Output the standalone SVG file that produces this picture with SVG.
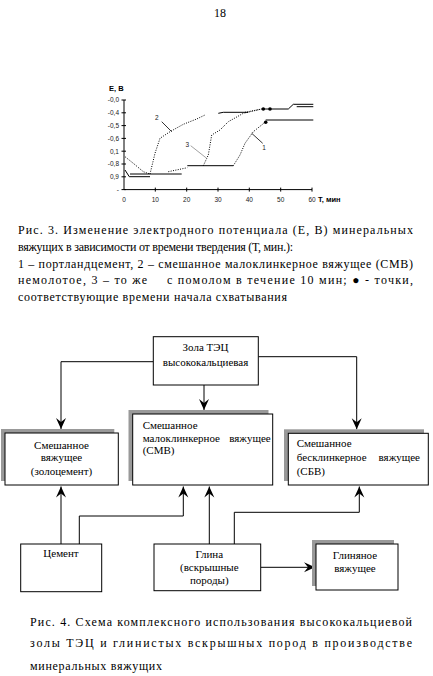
<svg xmlns="http://www.w3.org/2000/svg" width="433" height="676" viewBox="0 0 433 676">
<style>
.cap{font-family:"Liberation Serif","Times New Roman",serif;font-size:12px;fill:#000}
.bt{font-family:"Liberation Serif","Times New Roman",serif;font-size:11px;fill:#000}
.ax{font-family:"Liberation Sans",Arial,sans-serif;font-size:6.5px;fill:#222}
.axb{font-family:"Liberation Sans",Arial,sans-serif;font-size:7.5px;font-weight:bold;fill:#000}
.box{fill:#fff;stroke:#000;stroke-width:1}
.sh{fill:#999}
.con{fill:none;stroke:#000;stroke-width:1}
.sol{fill:none;stroke:#000;stroke-width:1}
.dot{fill:none;stroke:#000;stroke-width:1;stroke-dasharray:1 1.4}
</style>
<defs>
<marker id="ah" viewBox="-12 -6 13 12" refX="0" refY="0" markerWidth="13" markerHeight="12" markerUnits="userSpaceOnUse" orient="auto">
<path d="M0,0 L-11,-5 L-7,0 L-11,5 Z" fill="#000"/>
</marker>
</defs>
<rect width="433" height="676" fill="#fff"/>
<text class="cap" x="220" y="17" text-anchor="middle">18</text>

<g id="chart">
<line class="sol" x1="124" y1="100" x2="124" y2="189.6"/>
<line class="sol" x1="124" y1="189.6" x2="312" y2="189.6"/>
<path class="sol" d="M121.5,100H126M121.5,112.8H126M121.5,125.6H126M121.5,138.4H126M121.5,151.2H126M121.5,164H126M121.5,176.8H126M121.5,189.6H126"/>
<path class="sol" d="M155.3,187.6V191.6M186.7,187.6V191.6M218,187.6V191.6M249.3,187.6V191.6M280.7,187.6V191.6M312,187.6V191.6"/>
<text class="axb" x="109" y="90.5">E, B</text>
<g class="ax" text-anchor="end">
<text x="119" y="102.3">-0,0</text>
<text x="119" y="115.1">-0,4</text>
<text x="119" y="127.9">-0,5</text>
<text x="119" y="140.7">-0,6</text>
<text x="119" y="153.5">0,1</text>
<text x="119" y="166.3">-0,8</text>
<text x="119" y="179.1">0,9</text>
<text x="119" y="191.9">-</text>
</g>
<g class="ax" text-anchor="middle">
<text x="124" y="202">0</text>
<text x="155.3" y="202">10</text>
<text x="186.7" y="202">20</text>
<text x="218" y="202">30</text>
<text x="249.3" y="202">40</text>
<text x="280.7" y="202">50</text>
<text x="312" y="202">60</text>
</g>
<text class="axb" x="318" y="202">T, мин</text>
<polyline class="sol" points="125,170 129.3,176.7 150,176.7"/>
<polyline class="sol" points="130,174 181.7,174"/>
<polyline class="sol" points="187.3,165.7 233.3,165.7"/>
<polyline class="sol" points="218.3,113.3 223.3,112.3 248.3,112.3"/>
<polyline class="sol" points="263.3,109 288.3,109 293.3,104.3 313.3,104.3"/>
<polyline class="sol" points="265.7,120 313.3,120"/>
<polyline class="sol" points="296.7,106.7 313.3,106.7" stroke="#555"/>
<polyline class="dot" points="125,156.7 133.3,163.3 143.3,171.7 150,174"/>
<polyline class="dot" points="150,174 155,153.3 160,138.3 170,131.7 183.3,124.3 196.7,119 205,115"/>
<polyline class="dot" points="168.3,171.7 187.3,167.7"/>
<polyline class="dot" points="203.3,165.7 208.3,155 211.7,135 220,130 228.3,121.7 243.3,113.3 261.7,109"/>
<polyline class="dot" points="233.3,165.7 240,155 245,143.3 253.3,131.7 265,122.3"/>
<polyline class="dot" points="245,112.3 261.7,109"/>
<circle cx="263.3" cy="109" r="1.8"/>
<circle cx="270" cy="109" r="1.8"/>
<circle cx="265.7" cy="122.3" r="1.8"/>
<line x1="161.7" y1="121.7" x2="171.7" y2="131.7" stroke="#000" stroke-width="0.8"/>
<text class="ax" x="156.7" y="119.5" text-anchor="middle" font-size="7.5">2</text>
<line x1="190.7" y1="145.7" x2="206.7" y2="158.3" stroke="#888" stroke-width="0.8"/>
<text class="ax" x="187.3" y="147" text-anchor="middle" font-size="7.5" fill="#999">3</text>
<line x1="262.7" y1="143.3" x2="251.7" y2="133.3" stroke="#000" stroke-width="0.8"/>
<text class="ax" x="264" y="150" text-anchor="middle" font-size="7.5">1</text>
</g>

<g id="caption3" class="cap">
<text x="18" y="234" textLength="395" lengthAdjust="spacing">Рис. 3. Изменение электродного потенциала (Е, В) минеральных</text>
<text x="18" y="251" textLength="275" lengthAdjust="spacing">вяжущих в зависимости от времени твердения (Т, мин.):</text>
<text x="18" y="267.5" textLength="395" lengthAdjust="spacing">1 – портландцемент, 2 – смешанное малоклинкерное вяжущее (СМВ)</text>
<text x="18" y="284" textLength="129" lengthAdjust="spacing">немолотое, 3 – то же</text>
<text x="167" y="284" textLength="246" lengthAdjust="spacing">с помолом в течение 10 мин; ● - точки,</text>
<text x="18" y="300.5" textLength="269" lengthAdjust="spacing">соответствующие времени начала схватывания</text>
</g>

<g id="connectors">
<polyline class="con" points="153.3,361.7 61,361.7 61,429" marker-end="url(#ah)"/>
<polyline class="con" points="204,385 204,410" marker-end="url(#ah)"/>
<polyline class="con" points="258.3,356.7 356.7,356.7 356.7,429.3" marker-end="url(#ah)"/>
<polyline class="con" points="61,544 61,486.5" marker-end="url(#ah)"/>
<polyline class="con" points="79.3,544 79.3,516 183.3,516 183.3,486.5" marker-end="url(#ah)"/>
<polyline class="con" points="209.3,544 209.3,486.5" marker-end="url(#ah)"/>
<polyline class="con" points="234.3,544 234.3,512.3 359.3,512.3 359.3,486.5" marker-end="url(#ah)"/>
<polyline class="con" points="260.7,567.3 315,567.3" marker-end="url(#ah)"/>
</g>

<g id="zola">
<rect class="box" x="153.3" y="336.7" width="105" height="48.3"/>
<text class="bt" x="205.5" y="350.5" text-anchor="middle">Зола ТЭЦ</text>
<text class="bt" x="205.5" y="366" text-anchor="middle">высококальциевая</text>
</g>

<g id="zolocement">
<rect class="sh" x="1" y="429" width="113.3" height="52"/>
<rect class="box" x="5" y="433" width="113.3" height="52"/>
<text class="bt" x="61.5" y="448.5" text-anchor="middle">Смешанное</text>
<text class="bt" x="61.5" y="461" text-anchor="middle">вяжущее</text>
<text class="bt" x="61.5" y="474.5" text-anchor="middle">(золоцемент)</text>
</g>

<g id="smv">
<rect class="sh" x="128.5" y="410" width="140" height="71"/>
<rect class="box" x="132.7" y="414" width="140" height="71"/>
<text class="bt" x="142.7" y="428.5">Смешанное</text>
<text class="bt" x="142.7" y="442">малоклинкерное</text>
<text class="bt" x="270.7" y="442" text-anchor="end">вяжущее</text>
<text class="bt" x="142.7" y="454">(СМВ)</text>
</g>

<g id="sbv">
<rect class="sh" x="284" y="429.3" width="140" height="51.7"/>
<rect class="box" x="288.3" y="433.3" width="140" height="51.7"/>
<text class="bt" x="296.7" y="447">Смешанное</text>
<text class="bt" x="296.7" y="461">бесклинкерное</text>
<text class="bt" x="420" y="461" text-anchor="end">вяжущее</text>
<text class="bt" x="296.7" y="474.5">(СБВ)</text>
</g>

<g id="cement">
<rect class="box" x="20.7" y="544" width="81" height="47.7"/>
<text class="bt" x="61" y="557" text-anchor="middle">Цемент</text>
</g>

<g id="glina">
<rect class="box" x="154" y="544" width="106.7" height="46.7"/>
<text class="bt" x="209.3" y="558" text-anchor="middle">Глина</text>
<text class="bt" x="209.3" y="571" text-anchor="middle">(вскрышные</text>
<text class="bt" x="209.3" y="584" text-anchor="middle">породы)</text>
</g>

<g id="glinvyazh">
<rect class="sh" x="312" y="540" width="82" height="46"/>
<rect class="box" x="316" y="544" width="82" height="46"/>
<text class="bt" x="355" y="559" text-anchor="middle">Глиняное</text>
<text class="bt" x="355" y="572" text-anchor="middle">вяжущее</text>
</g>

<g id="caption4" class="cap">
<text x="30" y="626" textLength="382" lengthAdjust="spacing">Рис. 4. Схема комплексного использования высококальциевой</text>
<text x="30" y="647" textLength="382" lengthAdjust="spacing">золы ТЭЦ и глинистых вскрышных пород в производстве</text>
<text x="30" y="670" textLength="132" lengthAdjust="spacing">минеральных вяжущих</text>
</g>
</svg>
